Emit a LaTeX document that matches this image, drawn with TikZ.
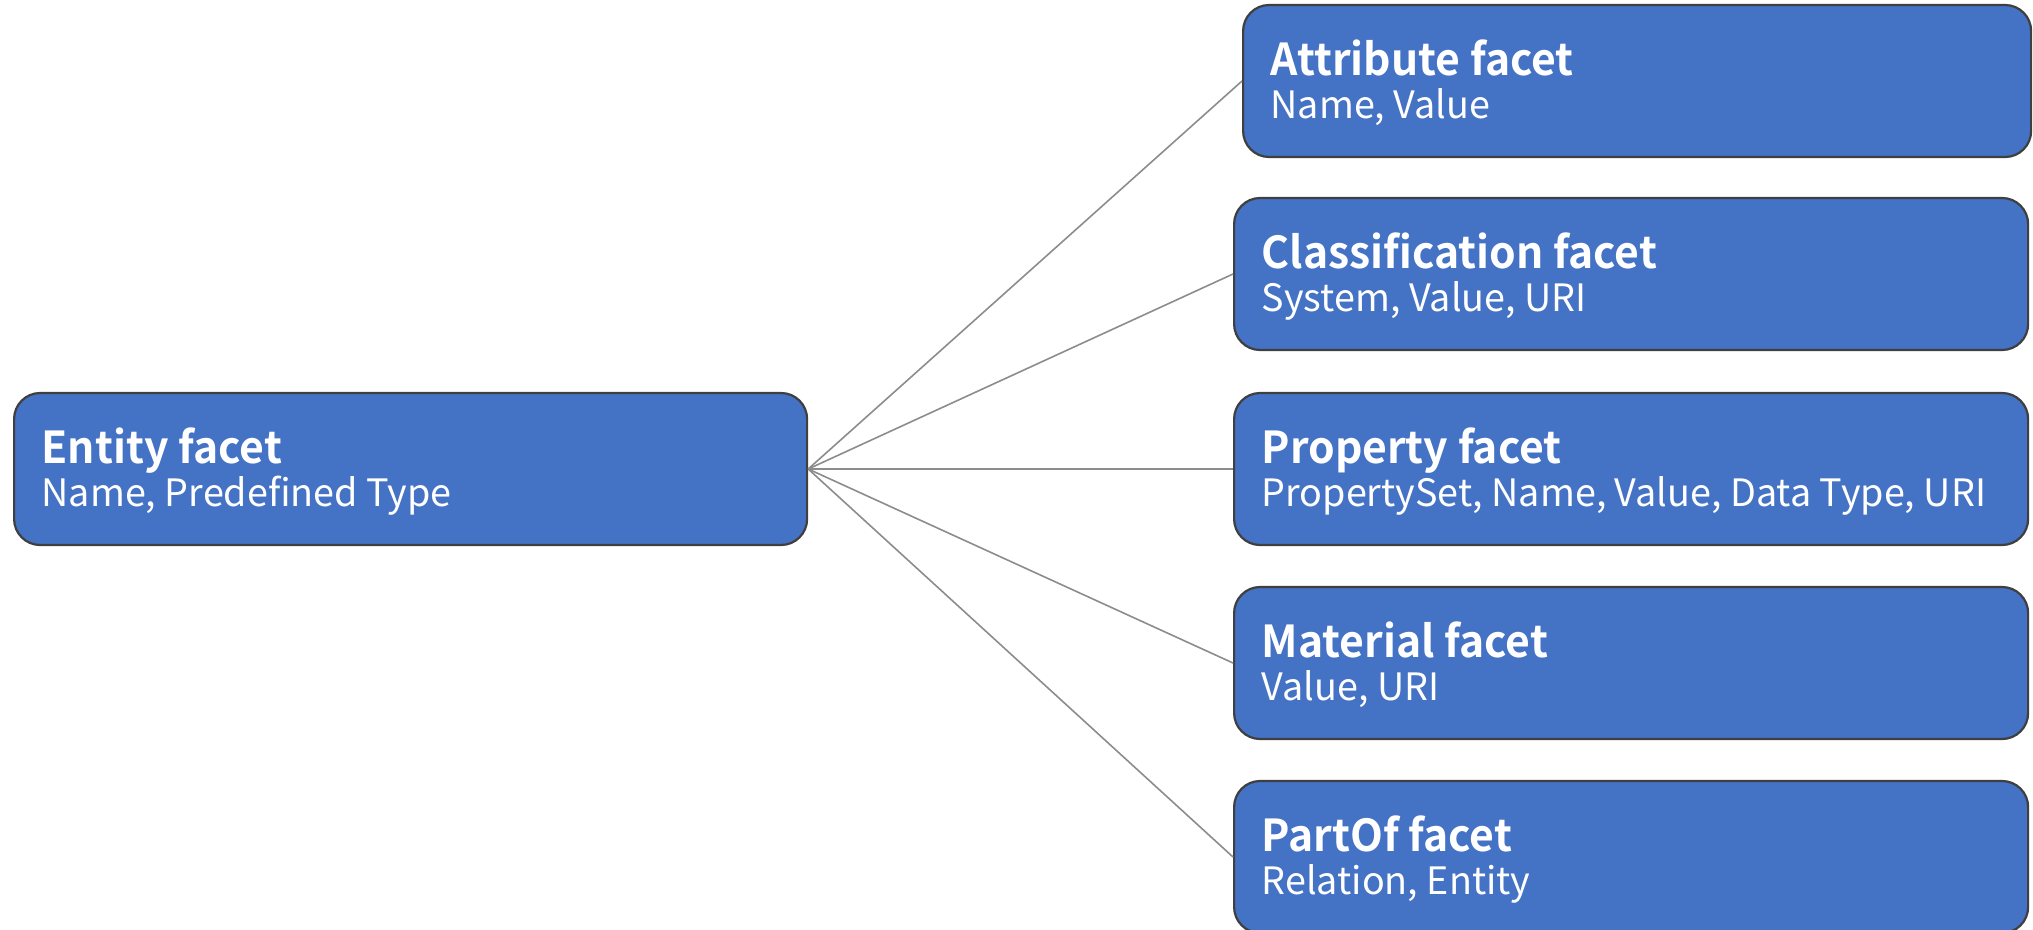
\documentclass[tikz,border=0pt]{standalone}
\usepackage{fontspec}
\setmainfont{Noto Sans CJK JP}
\newfontfamily\titlefont[FakeStretch=0.97]{Noto Sans CJK JP Bold}
\newfontfamily\subfont{Noto Sans CJK JP}
\definecolor{boxfill}{HTML}{4472C4}
\definecolor{boxline}{HTML}{3F3F3F}
\definecolor{linkgray}{HTML}{8C8C8C}
\tikzset{
  facet/.style={draw=boxline, line width=2.2pt, fill=boxfill, rounded corners=26pt,
    minimum width=#1, minimum height=152pt, inner sep=0pt, anchor=west},
  ttl/.style={anchor=base west, inner sep=0pt, text=white, font=\titlefont\fontsize{44}{50}\selectfont},
  sub/.style={anchor=base west, inner sep=0pt, text=white, font=\subfont\fontsize{37.7}{42}\selectfont},
  link/.style={draw=linkgray, line width=1.6pt}
}
\begin{document}
\begin{tikzpicture}[x=1pt,y=-1pt]
\useasboundingbox (0,0) rectangle (2033,929);
\node[facet=793pt] (ent) at (13,469) {};
\node[facet=788pt] (att) at (1242,81) {};
\node[facet=794pt] (cls) at (1233,274) {};
\node[facet=794pt] (prp) at (1233,469) {};
\node[facet=794pt] (mat) at (1233,663) {};
\node[facet=794pt] (prt) at (1233,857) {};
\node[ttl] (entT) at (41.5,463) {Entity facet};
\node[sub] (entS) at (41.5,506) {Name, Predefined Type};
\node[ttl] (attT) at (1270.5,75) {Attribute facet};
\node[sub] (attS) at (1270.5,118) {Name, Value};
\node[ttl] (clsT) at (1261.5,268) {Classification facet};
\node[sub] (clsS) at (1261.5,311) {System, Value, URI};
\node[ttl] (prpT) at (1261.5,463) {Property facet};
\node[sub] (prpS) at (1261.5,506) {PropertySet, Name, Value, Data Type, URI};
\node[ttl] (matT) at (1261.5,657) {Material facet};
\node[sub] (matS) at (1261.5,700) {Value, URI};
\node[ttl] (prtT) at (1261.5,851) {PartOf facet};
\node[sub] (prtS) at (1261.5,894) {Relation, Entity};
\foreach \t in {att,cls,prp,mat,prt}{
  \draw[link] (ent.east) -- (\t.west);
}
\end{tikzpicture}
\end{document}
